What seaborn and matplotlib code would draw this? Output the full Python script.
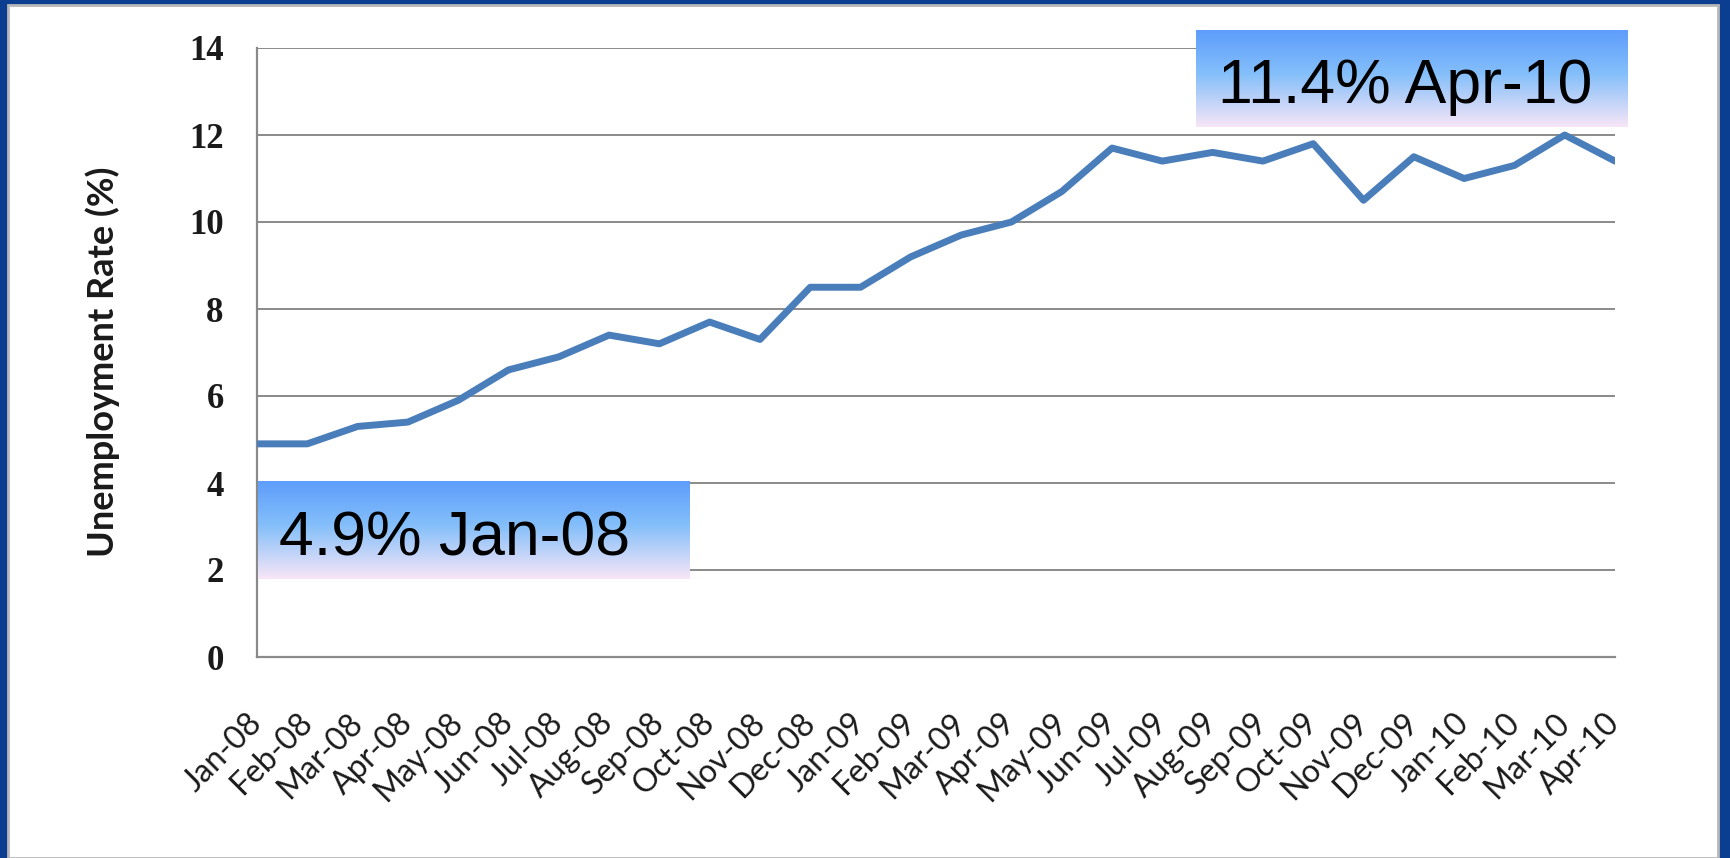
import numpy as np
import pandas as pd
import matplotlib
matplotlib.use("Agg")
import matplotlib.pyplot as plt
from matplotlib.colors import LinearSegmentedColormap
from matplotlib.patches import Rectangle
import seaborn as sns

# ---------------- data ----------------
months = ["Jan-08", "Feb-08", "Mar-08", "Apr-08", "May-08", "Jun-08", "Jul-08",
          "Aug-08", "Sep-08", "Oct-08", "Nov-08", "Dec-08", "Jan-09", "Feb-09",
          "Mar-09", "Apr-09", "May-09", "Jun-09", "Jul-09", "Aug-09", "Sep-09",
          "Oct-09", "Nov-09", "Dec-09", "Jan-10", "Feb-10", "Mar-10", "Apr-10"]
rate = [4.9, 4.9, 5.3, 5.4, 5.9, 6.6, 6.9, 7.4, 7.2, 7.7, 7.3, 8.5, 8.5, 9.2,
        9.7, 10.0, 10.7, 11.7, 11.4, 11.6, 11.4, 11.8, 10.5, 11.5, 11.0, 11.3,
        12.0, 11.4]
y_ticks = [0, 2, 4, 6, 8, 10, 12, 14]
y_label = "Unemployment Rate (%)"
note_start = "4.9% Jan-08"
note_end = "11.4% Apr-10"

df = pd.DataFrame({"pos": np.arange(len(months)), "month": months, "rate": rate})

# ---------------- style ----------------
sns.set_style("white")
plt.rcParams["font.family"] = ["Lato", "DejaVu Sans"]

W, H, DPI = 1731, 858, 100
fig = plt.figure(figsize=(W / DPI, H / DPI), dpi=DPI)
fig.patch.set_facecolor("#0b3d91")

# white panel with a thin grey edge
panel = Rectangle((8 / W, 0.0 / H), (1718 - 8) / W, (858 - 5) / H,
                  transform=fig.transFigure, facecolor="white",
                  edgecolor="#b8b8b8", linewidth=2.0, zorder=-10)
fig.patches.append(panel)

ax = fig.add_axes([257 / W, 1 - 657 / H, (1615 - 257) / W, (657 - 48) / H])
ax.set_zorder(5)
ax.set_facecolor("none")

grid_col = "#8a8a8a"
for yv in y_ticks[1:]:
    ax.axhline(yv, color=grid_col, lw=1.4, zorder=1)

sns.lineplot(data=df, x="pos", y="rate", ax=ax, color="#4a7ebb", lw=5.0,
             zorder=3, legend=False)

# gradient boxes
grad = LinearSegmentedColormap.from_list(
    "g", [(0.0, "#f8e6f7"), (0.55, "#84bffa"), (1.0, "#5e9dfc")])
gimg = np.linspace(0, 1, 256).reshape(-1, 1)

def note(text, x0, x1, y0, y1, ybase, pad_px):
    ax.imshow(gimg, cmap=grad, origin="lower", aspect="auto",
              extent=(x0, x1, y0, y1), zorder=4, clip_on=False,
              interpolation="bilinear")
    ax.annotate(text, xy=(x0, ybase), xytext=(pad_px * 72 / DPI, 0),
                textcoords="offset points", ha="left", va="baseline",
                fontsize=45, family=["Liberation Sans", "DejaVu Sans"],
                color="black", zorder=5, annotation_clip=False)

note(note_start, 0.02, 8.59, 1.79, 4.03, 2.34, 21)
note(note_end, 18.67, 27.24, 12.18, 14.39, 12.74, 22)

ax.set_xlim(0, len(months) - 1)
ax.set_ylim(0, 14)

ax.set_yticks(y_ticks)
ax.set_yticklabels([str(v) for v in y_ticks], fontsize=25, fontweight="bold",
                   family=["Liberation Serif", "DejaVu Serif"], color="#1a1a1a")
ax.set_xticks(df["pos"])
ax.set_xticklabels(months, rotation=45, ha="right", va="center",
                   rotation_mode="anchor", fontsize=23, color="#1a1a1a")

ax.tick_params(axis="y", direction="out", length=11, width=1.4, color=grid_col, pad=13)
ax.tick_params(axis="x", direction="out", length=9, width=1.4, color=grid_col, pad=35)

for s in ["top", "right"]:
    ax.spines[s].set_visible(False)
for s in ["left", "bottom"]:
    ax.spines[s].set_color(grid_col)
    ax.spines[s].set_linewidth(1.6)
ax.spines["left"].set_zorder(2)

ax.set_xlabel("")
ax.set_ylabel(y_label, fontsize=26, fontweight="bold", color="#1a1a1a")
ax.yaxis.set_label_coords(-0.101, 0.485)

fig.savefig("out.png", dpi=DPI, facecolor=fig.get_facecolor())
